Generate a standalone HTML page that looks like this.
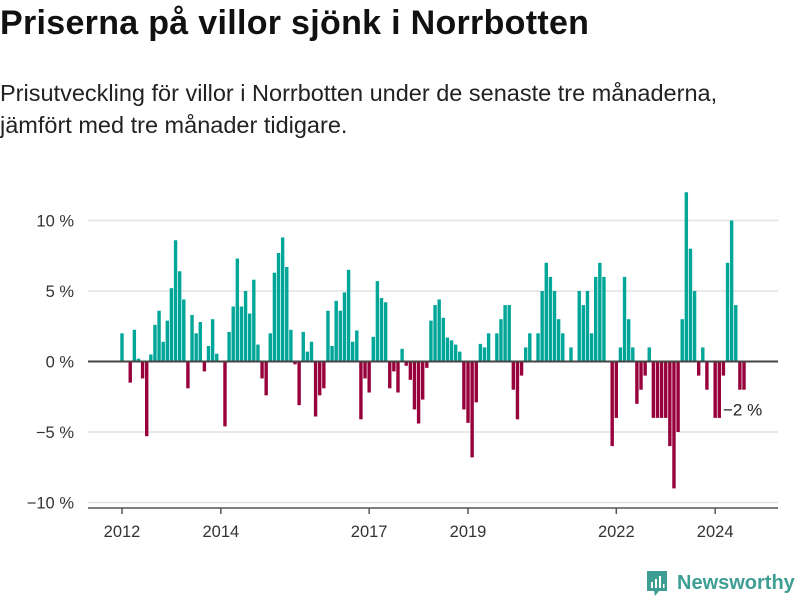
<!DOCTYPE html>
<html><head><meta charset="utf-8">
<style>
body{margin:0;width:800px;height:600px;background:#fff;font-family:"Liberation Sans",sans-serif;color:#111;overflow:hidden;position:relative}
h1{position:absolute;left:0;top:4px;margin:0;font-size:34px;font-weight:bold;letter-spacing:0.3px}
p{position:absolute;left:0;top:77px;margin:0;font-size:23.5px;line-height:32px;color:#222}
svg{position:absolute;left:0;top:0}
</style></head><body>
<h1>Priserna på villor sjönk i Norrbotten</h1>
<p>Prisutveckling för villor i Norrbotten under de senaste tre månaderna,<br>jämfört med tre månader tidigare.</p>
<svg id="chart" width="800" height="600"></svg>
<div style="position:absolute;left:645px;top:569px;display:flex;align-items:center;color:#3f9e93;font-size:20px;font-weight:bold">
<svg width="24" height="28" viewBox="0 0 24 28" style="position:static;margin-right:8px"><path d="M2 2h20v20h-8l-4 5-1-5H2z" fill="#3f9e93"/><rect x="6" y="13" width="2" height="6" fill="#fff"/><rect x="10" y="10" width="2" height="9" fill="#fff"/><rect x="14" y="7" width="2" height="12" fill="#fff"/><rect x="18" y="15" width="1.5" height="4" fill="#fff"/></svg>Newsworthy</div>
<script>
const values=[2.0,0,-1.5,2.25,0.2,-1.2,-5.3,0.5,2.6,3.6,1.4,2.9,5.2,8.6,6.4,4.4,-1.9,3.3,2.0,2.8,-0.7,1.1,3.0,0.55,0,-4.6,2.1,3.9,7.3,3.9,5.0,3.4,5.8,1.2,-1.2,-2.4,2.0,6.3,7.7,
8.8,6.7,2.25,-0.2,-3.1,2.1,0.7,1.4,-3.9,-2.4,-1.9,3.6,1.1,4.3,3.6,4.9,6.5,1.4,2.2,-4.1,-1.2,-2.2,1.75,5.7,4.5,4.2,-1.9,-0.7,-2.2,0.9,-0.3,-1.3,-3.4,-4.4,-2.7,-0.45,2.9,4.0,4.4,
3.1,1.7,1.5,1.2,0.7,-3.4,-4.35,-6.8,-2.9,1.25,1.0,2.0,0,2.0,3.0,4.0,4.0,-2.0,-4.1,-1.0,1.0,2.0,0,2.0,5.0,7.0,6.0,5.0,3.0,2.0,0,1.0,0,5.0,4.0,5.0,2.0,6.0,
7,6,0,-6,-4,1,6,3,1,-3,-2,-1,1,-4,-4,-4,-4,-6,-9,-5,3,12,8,5,-1,1,-2,0,-4,-4,-1,7,10,4,-2,-2];
const startYear=2012;
const yTicks=[10,5,0,-5,-10];
const yTickLabels=["10 %","5 %","0 %","−5 %","−10 %"];
const xTickYears=[2012,2014,2017,2019,2022,2024];
const lastLabel="−2 %";
const NS="http://www.w3.org/2000/svg";
const svg=document.getElementById('chart');
const x0=122,xEnd=744,left=88,right=778;
const step=(xEnd-x0)/(values.length-1);
const xS=i=>x0+i*step;
const yS=v=>361.5-v*14.1;
function mk(t,a){const e=document.createElementNS(NS,t);for(const k in a)e.setAttribute(k,a[k]);svg.appendChild(e);return e;}
yTicks.forEach((v,k)=>{
 if(v!==0){const g=mk('line',{x1:left,x2:right,y1:yS(v),y2:yS(v),stroke:'#e2e2e2','stroke-width':1.5});
 
 }
 const t=mk('text',{x:74,y:yS(v)+6,'text-anchor':'end','font-size':16.5,fill:'#333','font-family':'Liberation Sans, sans-serif'});
 t.textContent=yTickLabels[k];
 
 
});
values.forEach((v,i)=>{
 if(v===0)return;
 const y=Math.min(yS(v),yS(0)),h=Math.abs(yS(v)-yS(0));
 const r=mk('rect',{x:xS(i)-1.7,y:y,width:3.4,height:h,fill:v>0?'#00a698':'#98003c'});
 
 
});
const z=mk('line',{x1:left,x2:right,y1:yS(0),y2:yS(0),stroke:'#444','stroke-width':2});


const ax=mk('line',{x1:left,x2:right,y1:508,y2:508,stroke:'#555','stroke-width':1.5});


xTickYears.forEach(yr=>{
 const x=xS((yr-startYear)*12);
 const tk=mk('line',{x1:x,x2:x,y1:508,y2:514,stroke:'#555','stroke-width':1.5});
 
 
 const t=mk('text',{x:x,y:537,'text-anchor':'middle','font-size':16.5,fill:'#333','font-family':'Liberation Sans, sans-serif'});
 t.textContent=yr;
 
 
});
const lv=values[values.length-1];
const lb=mk('text',{x:723,y:yS(lv)+26,'font-size':17,fill:'#222','font-family':'Liberation Sans, sans-serif'});
lb.textContent=lastLabel;


</script>
</body></html>
